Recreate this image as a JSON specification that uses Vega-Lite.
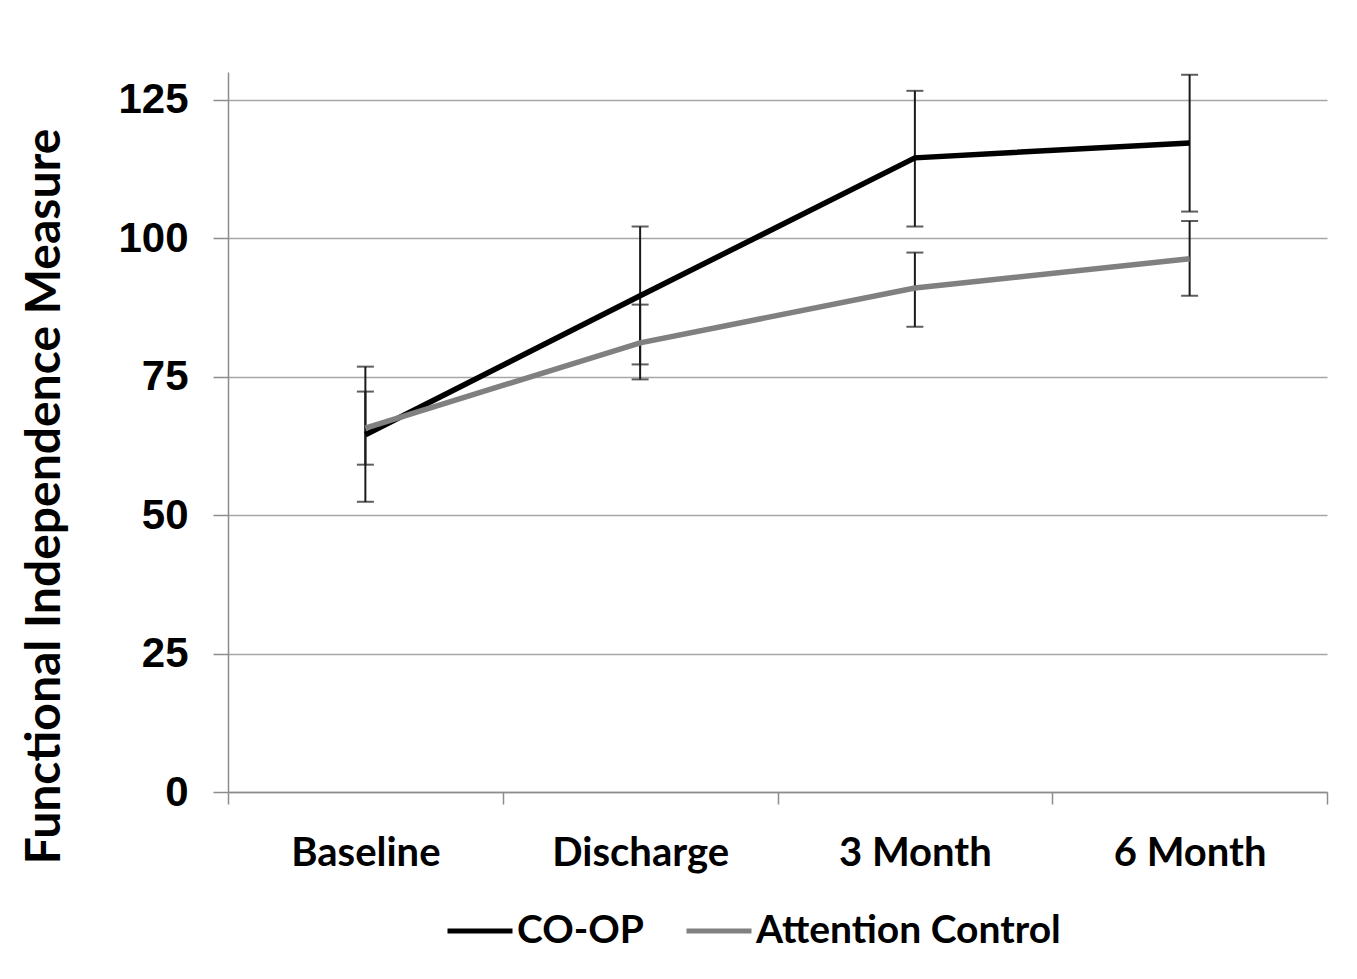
{
  "$schema": "https://vega.github.io/schema/vega-lite/v6.json",
  "width": 1099,
  "height": 720,
  "autosize": {"type": "none"},
  "padding": {"left": 228, "top": 72, "right": 30, "bottom": 187},
  "background": "white",
  "config": {"view": {"stroke": null}, "font": "Lato"},
  "data": {
    "values": [
      {"time": "Baseline", "group": "CO-OP", "mean": 64.5, "lo": 52.4, "hi": 76.8},
      {"time": "Discharge", "group": "CO-OP", "mean": 89.6, "lo": 77.2, "hi": 102.1},
      {"time": "3 Month", "group": "CO-OP", "mean": 114.5, "lo": 102.1, "hi": 126.6},
      {"time": "6 Month", "group": "CO-OP", "mean": 117.2, "lo": 104.8, "hi": 129.5},
      {"time": "Baseline", "group": "Attention Control", "mean": 65.7, "lo": 59.1, "hi": 72.3},
      {"time": "Discharge", "group": "Attention Control", "mean": 81.1, "lo": 74.5, "hi": 88.0},
      {"time": "3 Month", "group": "Attention Control", "mean": 91.0, "lo": 84.0, "hi": 97.4},
      {"time": "6 Month", "group": "Attention Control", "mean": 96.3, "lo": 89.6, "hi": 103.1}
    ]
  },
  "encoding": {
    "x": {
      "field": "time", "type": "nominal",
      "sort": ["Baseline", "Discharge", "3 Month", "6 Month"],
      "scale": {"paddingInner": 0, "paddingOuter": 0},
      "axis": {
        "title": null, "labelAngle": 0, "grid": false,
        "domainColor": "#8c8c8c", "domainWidth": 1.5,
        "tickColor": "#8c8c8c", "tickWidth": 1.5, "tickSize": 12, "tickBand": "extent",
        "labelFont": "Lato", "labelFontWeight": "bold", "labelFontSize": 40,
        "labelColor": "#000", "labelPadding": 29
      }
    }
  },
  "layer": [
    {
      "mark": {"type": "rule", "color": "#1a1a1a", "strokeWidth": 2},
      "encoding": {
        "y": {
          "field": "lo", "type": "quantitative",
          "scale": {"domain": [0, 130], "nice": false},
          "axis": {
            "values": [0, 25, 50, 75, 100, 125],
            "title": "Functional Independence Measure",
            "titleFont": "Lato", "titleFontWeight": "bold", "titleFontSize": 48,
            "titleColor": "#000", "titleX": -183, "titleY": 424, "titleAngle": -90,
            "titleBaseline": "middle", "titleAlign": "center",
            "labelFont": "Liberation Sans", "labelFontWeight": "bold", "labelFontSize": 42,
            "labelColor": "#000", "labelPadding": 25,
            "grid": true, "gridColor": "#a6a6a6", "gridWidth": 1.5,
            "domainColor": "#8c8c8c", "domainWidth": 1.5,
            "tickColor": "#8c8c8c", "tickWidth": 1.5, "tickSize": 15
          }
        },
        "y2": {"field": "hi"}
      }
    },
    {
      "mark": {"type": "tick", "color": "#1a1a1a", "thickness": 2, "size": 17},
      "encoding": {"y": {"field": "lo", "type": "quantitative"}}
    },
    {
      "mark": {"type": "tick", "color": "#1a1a1a", "thickness": 2, "size": 17},
      "encoding": {"y": {"field": "hi", "type": "quantitative"}}
    },
    {
      "mark": {"type": "line", "strokeWidth": 5.5},
      "encoding": {
        "y": {"field": "mean", "type": "quantitative"},
        "color": {
          "field": "group", "type": "nominal",
          "scale": {"domain": ["CO-OP", "Attention Control"], "range": ["#000000", "#808080"]},
          "legend": {
            "title": null, "orient": "none", "direction": "horizontal",
            "legendX": 217, "legendY": 824,
            "symbolType": "stroke", "symbolStrokeWidth": 5, "symbolSize": 4225,
            "labelFont": "Lato", "labelFontWeight": "bold", "labelFontSize": 39,
            "labelColor": "#000", "labelOffset": 2, "columnPadding": 32,
            "labelLimit": 600
          }
        }
      }
    }
  ]
}
